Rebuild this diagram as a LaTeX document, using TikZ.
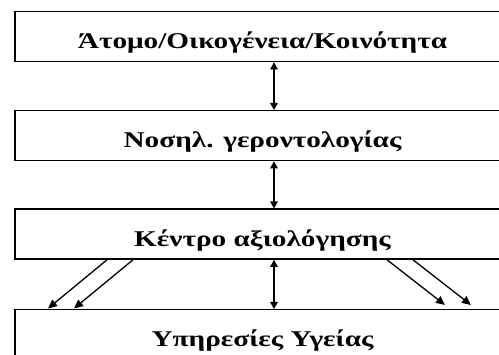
\documentclass[tikz,border=0pt]{standalone}
\usepackage{fontspec}
\setmainfont{Liberation Serif}[FakeStretch=1.3]
\usetikzlibrary{arrows.meta}
\begin{document}
\begin{tikzpicture}[x=1pt,y=-1pt,
  levelbox/.style={draw, line width=1.3pt, rectangle, inner sep=0pt,
    minimum width=495pt, text height=37pt, text depth=13pt,
    anchor=north, font=\fontsize{22.5}{26}\selectfont\bfseries},
  link/.style={line width=1.2pt, {Triangle[length=7pt,width=7.5pt]}-{Triangle[length=7pt,width=7.5pt]}},
  flow/.style={line width=1.3pt, -{Triangle[length=9pt,width=8pt]}}]
\useasboundingbox (0,0) rectangle (499,355);
\fill[white] (0,0) rectangle (499,355);

% the four levels
\node[levelbox] (b1) at (262.5,11)  {Άτομο/Οικογένεια/Κοινότητα};
\node[levelbox] (b2) at (262.5,110) {Νοσηλ. γεροντολογίας};
\node[levelbox] (b3) at (262.5,208.5) {Κέντρο αξιολόγησης};
\node[levelbox] (b4) at (262.5,309) {Υπηρεσίες Υγείας};

% vertical two-way links
\coordinate (axis) at (274,0);
\draw[link] (b1.south -| axis) -- (b2.north -| axis);
\draw[link] (b2.south -| axis) -- (b3.north -| axis);
\draw[link] (b3.south -| axis) -- (b4.north -| axis);

% diagonal referrals
\draw[flow] ([xshift=-155.5pt]b3.south) -- ([xshift=-214.5pt,yshift=0.5pt]b4.north);
\draw[flow] ([xshift=-129.5pt]b3.south) -- ([xshift=-188.5pt,yshift=0.5pt]b4.north);
\draw[flow] ([xshift=124.5pt]b3.south) -- ([xshift=182.5pt,yshift=4pt]b4.north);
\draw[flow] ([xshift=150.5pt]b3.south) -- ([xshift=208.5pt,yshift=4pt]b4.north);
\end{tikzpicture}
\end{document}
